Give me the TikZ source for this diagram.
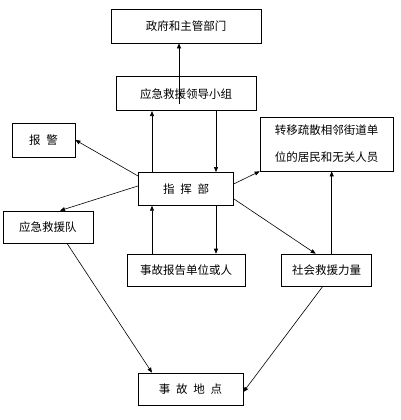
\documentclass[tikz,border=0pt]{standalone}
\usepackage{fontspec}
\setmainfont{Noto Sans CJK SC}
\usetikzlibrary{arrows.meta,positioning,calc}
\tikzset{
    block/.style={
        draw,
        rectangle,
        line width=0.7pt,
        inner sep=0pt,
        minimum height=33pt,
        font=\fontsize{11.5}{14}\selectfont
    },
    link/.style={
        -{Triangle[length=5pt,width=4pt]},
        line width=0.6pt
    },
}

\begin{document}
\begin{tikzpicture}[x=1pt, y=1pt, align=center]
    \useasboundingbox (0,0) rectangle (400,420);
    % blocks
    \node[block, minimum width=150pt, minimum height=34pt] (gov) at (186,394) {政府和主管部门};
    \node[block, minimum width=140pt, minimum height=34pt, below=33pt of gov] (lead) {应急救援领导小组};
    \node[block, minimum width=95pt, below=61pt of lead] (cmd) {指\enspace 挥\enspace 部};
    \node[block, minimum width=118pt, minimum height=32pt, below=48pt of cmd] (report) {事故报告单位或人};
    \node[block, minimum width=90pt, minimum height=32pt, right=36pt of report] (social) {社会救援力量};
    \node[block, minimum width=63pt, minimum height=34pt] (alarm) at (43.5,280) {报\enspace 警};
    \node[block, minimum width=90pt, minimum height=32pt] (team) at (48,193) {应急救援队};
    \node[block, minimum width=133pt, minimum height=54pt, align=left] (evac) at (326.5,276) {转移疏散相邻街道单\\[13pt]位的居民和无关人员};
    \node[block, minimum width=105pt, minimum height=32pt] (site) at (190.5,31) {事\enspace 故\enspace 地\enspace 点};

    % columns of the vertical links
    \coordinate (colL) at (152,0);
    \coordinate (colR) at (216,0);

    % lines
    \draw[link] ([xshift=-7pt,yshift=-10pt]lead.center) coordinate (up) -- (up |- gov.south);
    \draw[link] (colL |- cmd.north) -- (colL |- lead.south);
    \draw[link] (colR |- lead.south) -- (colR |- cmd.north);
    \draw[link] ([yshift=-4pt]cmd.north west) -- (alarm.east);
    \draw[link] ([yshift=3pt]cmd.west) -- ([xshift=12pt]team.north);
    \draw[link] ([yshift=5pt]cmd.east) -- (evac.south west);
    \draw[link] ([yshift=-10pt]cmd.east) -- ([xshift=-11pt]social.north);
    \draw[link] (colL |- report.north) -- (colL |- cmd.south);
    \draw[link] (colR |- cmd.south) -- (colR |- report.north);
    \draw[link] ([xshift=5pt]social.north) coordinate (rise) -- (rise |- evac.south);
    \draw[link] ([xshift=19pt]team.south) -- (colL |- site.north);
    \draw[link] ([xshift=-4pt]social.south) -- ([yshift=-3pt]site.east);
\end{tikzpicture}
\end{document}
